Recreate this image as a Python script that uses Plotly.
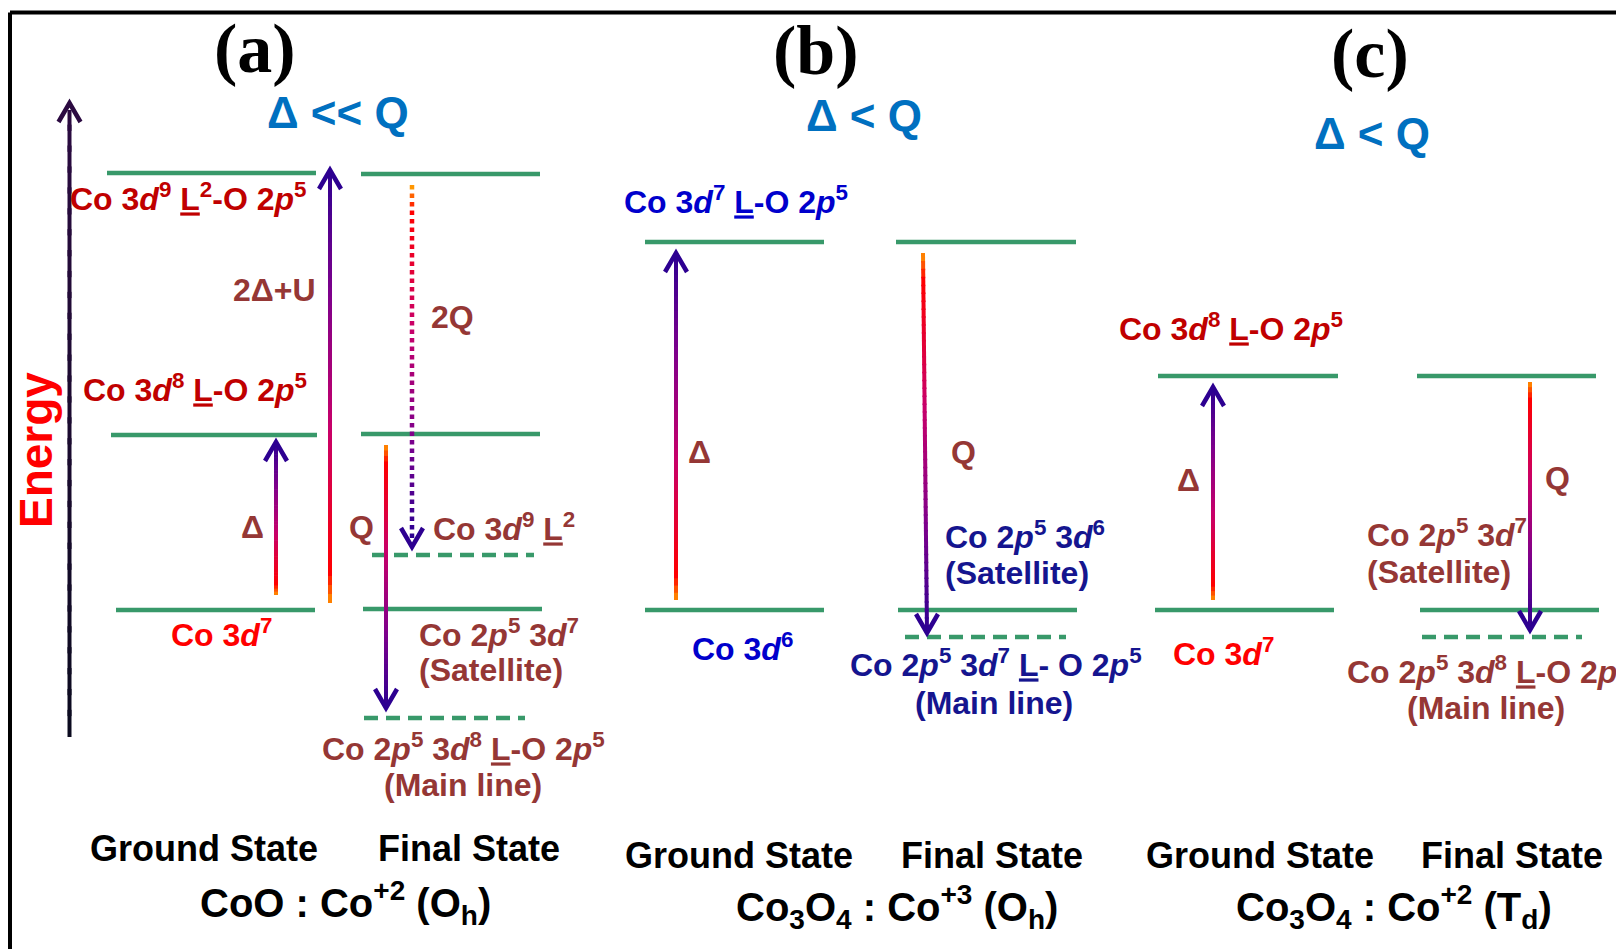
import plotly.graph_objects as go

W, H = 1616, 949

# ---------------- data (vertical positions = energy, px from top) ----------------
a_ground_levels = [173, 435, 610]
a_ground_span = [(107, 316), (111, 317), (116, 315)]
a_final_levels = [174, 434, 555, 609, 718]
a_final_span = [(361, 540), (361, 540), (372, 534), (363, 542), (364, 525)]
a_final_dashed = [False, False, True, False, True]

b_ground_levels = [242, 610]
b_ground_span = [(645, 824), (645, 824)]
b_final_levels = [242, 610, 637]
b_final_span = [(896, 1076), (898, 1077), (905, 1066)]
b_final_dashed = [False, False, True]

c_ground_levels = [376, 610]
c_ground_span = [(1158, 1338), (1155, 1334)]
c_final_levels = [376, 610, 637]
c_final_span = [(1417, 1596), (1420, 1599), (1422, 1582)]
c_final_dashed = [False, False, True]

# transitions: (x_start, x_end, y_start, y_end, dotted)
arrows_a = [(276, 276, 595, 442, False),   # Delta
            (330, 330, 603, 170, False),   # 2Delta+U
            (412, 412, 185, 547, True),    # 2Q
            (386, 386, 445, 708, False)]   # Q
arrows_b = [(676, 676, 600, 253, False),
            (923, 927, 253, 633, False)]
arrows_c = [(1213, 1213, 600, 387, False),
            (1530, 1530, 382, 630, False)]

# ---------------- styles ----------------
GREEN = "#38996A"
DARKRED = "#C00000"
RED = "#FF0000"
BROWN = "#953735"
BLUE = "#0000CC"
NAVY = "#15158F"
SKY = "#0070C0"
SANS = "Liberation Sans"
SERIF = "Liberation Serif"

grad_stops = [(0.0, (255, 150, 0)), (0.07, (255, 0, 0)), (0.40, (200, 0, 105)),
              (0.72, (125, 0, 140)), (1.0, (45, 0, 145))]


def grad(t):
    for (t0, c0), (t1, c1) in zip(grad_stops[:-1], grad_stops[1:]):
        if t <= t1:
            f = (t - t0) / (t1 - t0) if t1 > t0 else 0
            c = [round(a + (b - a) * f) for a, b in zip(c0, c1)]
            return "rgb(%d,%d,%d)" % tuple(c)
    return "rgb(%d,%d,%d)" % grad_stops[-1][1]


shapes = []


def seg(x0, y0, x1, y1, color, width, dash="solid"):
    shapes.append(dict(type="line", xref="x", yref="y", x0=x0, y0=y0, x1=x1, y1=y1,
                       line=dict(color=color, width=width, dash=dash), layer="above"))


def levels(ys, spans, dashed=None):
    for i, (y, (x0, x1)) in enumerate(zip(ys, spans)):
        d = dashed[i] if dashed else False
        seg(x0, y, x1, y, GREEN, 4.5, "14px,8px" if d else "solid")


def arrow(xs, xe, ys, ye, dotted):
    L = abs(ye - ys)
    if dotted:
        step = 8.5
        n = int(L // step)
        for i in range(n):
            t = i / max(n - 1, 1)
            ya = ys + (ye - ys) * (i * step) / L
            yb = ys + (ye - ys) * (i * step + 4.5) / L
            xa = xs + (xe - xs) * (i * step) / L
            seg(xa, ya, xa, yb, grad(t), 4.5)
    else:
        n = 48
        for i in range(n):
            t0, t1 = i / n, (i + 1) / n
            seg(xs + (xe - xs) * t0, ys + (ye - ys) * t0,
                xs + (xe - xs) * min(t1 + 0.004, 1), ys + (ye - ys) * min(t1 + 0.004, 1),
                grad((t0 + t1) / 2), 4)
    sgn = 1 if ye < ys else -1
    path = "M %f,%f L %f,%f L %f,%f" % (xe - 11, ye + sgn * 19, xe, ye, xe + 11, ye + sgn * 19)
    shapes.append(dict(type="path", xref="x", yref="y", path=path,
                       line=dict(color=grad(1.0), width=4.5), layer="above"))


# border
seg(10, 12.5, W + 5, 12.5, "black", 4)
seg(10, 12.5, 10, H + 5, "black", 4)

# energy axis arrow (dark)
ea_n = 30
for i in range(ea_n):
    t0, t1 = i / ea_n, (i + 1) / ea_n
    k = (t0 + t1) / 2
    c = (round(10 + 33 * k), round(10 + 0 * k), round(30 + 35 * k))
    seg(69.5, 737 - (737 - 110) * t0, 69.5, 737 - (737 - 110) * min(t1 + 0.01, 1),
        "rgb(%d,%d,%d)" % c, 4)
shapes.append(dict(type="path", xref="x", yref="y",
                   path="M 58.5,122 L 69.5,103 L 80.5,122",
                   line=dict(color="rgb(43,10,65)", width=4.5), layer="above"))

levels(a_ground_levels, a_ground_span)
levels(a_final_levels, a_final_span, a_final_dashed)
levels(b_ground_levels, b_ground_span)
levels(b_final_levels, b_final_span, b_final_dashed)
levels(c_ground_levels, c_ground_span)
levels(c_final_levels, c_final_span, c_final_dashed)
for a in arrows_a + arrows_b + arrows_c:
    arrow(*a)

anns = []


def T(x, y, text, color, size, anchor="center", family=SANS, angle=0):
    anns.append(dict(x=x, y=y, xref="x", yref="y", text=text, showarrow=False,
                     xanchor=anchor, yanchor="middle", textangle=angle,
                     font=dict(family=family, size=size, color=color)))


d9L2 = "<b>Co 3<i>d</i><sup>9</sup> <u>L</u><sup>2</sup>-O 2<i>p</i><sup>5</sup></b>"
d8L = "<b>Co 3<i>d</i><sup>8</sup> <u>L</u>-O 2<i>p</i><sup>5</sup></b>"
d7L = "<b>Co 3<i>d</i><sup>7</sup> <u>L</u>-O 2<i>p</i><sup>5</sup></b>"
d7 = "<b>Co 3<i>d</i><sup>7</sup></b>"
d6 = "<b>Co 3<i>d</i><sup>6</sup></b>"
p5d7 = "<b>Co 2<i>p</i><sup>5</sup> 3<i>d</i><sup>7</sup></b>"
p5d6 = "<b>Co 2<i>p</i><sup>5</sup> 3<i>d</i><sup>6</sup></b>"
p5d8L = "<b>Co 2<i>p</i><sup>5</sup> 3<i>d</i><sup>8</sup> <u>L</u>-O 2<i>p</i><sup>5</sup></b>"
p5d7L = "<b>Co 2<i>p</i><sup>5</sup> 3<i>d</i><sup>7</sup> <u>L</u>- O 2<i>p</i><sup>5</sup></b>"
sat = "<b>(Satellite)</b>"
main = "<b>(Main line)</b>"

LS, GS, FS = 32, 36, 40

T(36, 450, "<b>Energy</b>", RED, 46, angle=-90)

# panel a
T(255, 48, "<b>(a)</b>", "black", 70, family=SERIF)
T(338, 112, "<b>Δ << Q</b>", SKY, 44)
T(308, 197, d9L2, DARKRED, LS, "right")
T(318, 290, "<b>2Δ+U</b>", BROWN, LS, "right")
T(309, 388, d8L, DARKRED, LS, "right")
T(252, 527, "<b>Δ</b>", BROWN, LS)
T(221, 633, d7, RED, LS)
T(429, 317, "<b>2Q</b>", BROWN, LS, "left")
T(361, 527, "<b>Q</b>", BROWN, LS)
T(431, 527, "<b>Co 3<i>d</i><sup>9</sup> <u>L</u><sup>2</sup></b>", BROWN, LS, "left")
T(417, 633, p5d7, BROWN, LS, "left")
T(417, 670, sat, BROWN, LS, "left")
T(463, 747, p5d8L, BROWN, LS)
T(463, 785, main, BROWN, LS)
T(204, 848, "<b>Ground State</b>", "black", GS)
T(469, 848, "<b>Final State</b>", "black", GS)
T(345, 903, "<b>CoO : Co<sup>+2</sup> (O<sub>h</sub>)</b>", "black", FS)

# panel b
T(816, 50, "<b>(b)</b>", "black", 70, family=SERIF)
T(864, 115, "<b>Δ < Q</b>", SKY, 44)
T(736, 200, d7L, BLUE, LS)
T(699, 452, "<b>Δ</b>", BROWN, LS)
T(963, 452, "<b>Q</b>", BROWN, LS)
T(943, 535, p5d6, NAVY, LS, "left")
T(943, 573, sat, NAVY, LS, "left")
T(742, 647, d6, BLUE, LS)
T(848, 663, p5d7L, NAVY, LS, "left")
T(994, 703, main, NAVY, LS)
T(739, 855, "<b>Ground State</b>", "black", GS)
T(992, 855, "<b>Final State</b>", "black", GS)
T(897, 907, "<b>Co<sub>3</sub>O<sub>4</sub> : Co<sup>+3</sup> (O<sub>h</sub>)</b>", "black", FS)

# panel c
T(1370, 53, "<b>(c)</b>", "black", 70, family=SERIF)
T(1372, 133, "<b>Δ < Q</b>", SKY, 44)
T(1231, 327, d8L, DARKRED, LS)
T(1188, 480, "<b>Δ</b>", BROWN, LS)
T(1557, 478, "<b>Q</b>", BROWN, LS)
T(1365, 533, p5d7, BROWN, LS, "left")
T(1365, 572, sat, BROWN, LS, "left")
T(1223, 652, d7, RED, LS)
T(1345, 670, p5d8L, BROWN, LS, "left")
T(1486, 708, main, BROWN, LS)
T(1260, 855, "<b>Ground State</b>", "black", GS)
T(1512, 855, "<b>Final State</b>", "black", GS)
T(1394, 907, "<b>Co<sub>3</sub>O<sub>4</sub> : Co<sup>+2</sup> (T<sub>d</sub>)</b>", "black", FS)

fig = go.Figure()
fig.add_trace(go.Scatter(x=[0, W], y=[0, H], mode="markers", marker=dict(opacity=0),
                         hoverinfo="skip", showlegend=False))
fig.update_layout(
    width=W, height=H, margin=dict(l=0, r=0, t=0, b=0),
    paper_bgcolor="white", plot_bgcolor="white",
    xaxis=dict(range=[0, W], visible=False, fixedrange=True),
    yaxis=dict(range=[H, 0], visible=False, fixedrange=True),
    shapes=shapes, annotations=anns, showlegend=False,
)
fig.write_html("out.html")
